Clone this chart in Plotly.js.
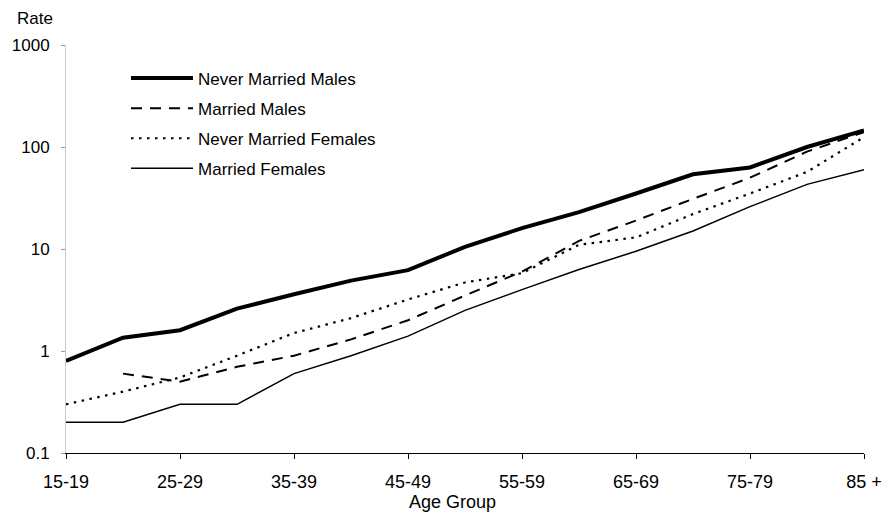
<!DOCTYPE html>
<html>
<head>
<meta charset="utf-8">
<script src="https://cdn.plot.ly/plotly-3.0.1.min.js"></script>
<style>html,body{margin:0;padding:0;background:#fff;}#chart{width:891px;height:514px;}</style>
</head>
<body>
<div id="chart"></div>
<script>
var categories = ["15-19","20-24","25-29","30-34","35-39","40-44","45-49","50-54","55-59","60-64","65-69","70-74","75-79","80-84","85 +"];
var tickLabels = ["15-19","25-29","35-39","45-49","55-59","65-69","75-79","85 +"];
var neverMarriedMales   = [0.8, 1.35, 1.6, 2.6, 3.6, 4.9, 6.2, 10.5, 16, 23, 35, 54, 63, 100, 145];
var marriedMales        = [null, 0.6, 0.5, 0.7, 0.9, 1.3, 2.0, 3.5, 6.0, 12, 19, 31, 50, 90, 140];
var neverMarriedFemales = [0.3, 0.4, 0.55, 0.9, 1.5, 2.1, 3.2, 4.7, 5.8, 11, 13, 22, 35, 57, 125];
var marriedFemales      = [0.2, 0.2, 0.3, 0.3, 0.6, 0.9, 1.4, 2.5, 4.0, 6.3, 9.5, 15, 26, 43, 60];
var yTicks = [0.1, 1, 10, 100, 1000];
var yTickText = ["0.1", "1", "10", "100", "1000"];

var F = "Liberation Sans, Arial, sans-serif";
function tr(name, y, width, dash) {
  return {type: "scatter", mode: "lines", name: name, legendgroup: name, x: categories, y: y,
    connectgaps: false, line: {color: "#000", width: width, dash: dash}};
}
var data = [
  tr("Never Married Males", neverMarriedMales, 4, "solid"),
  tr("Married Males", marriedMales, 2, "11px,8px"),
  tr("Never Married Females", neverMarriedFemales, 2.2, "2.5px,5.5px"),
  tr("Married Females", marriedFemales, 1.5, "solid")
];
var layout = {
  width: 891, height: 514,
  margin: {l: 66, r: 27, t: 45, b: 61},
  paper_bgcolor: "#fff", plot_bgcolor: "#fff",
  font: {family: F, size: 18, color: "#000"},
  showlegend: true,
  legend: {x: 0.0752, y: 0.962, xanchor: "left", yanchor: "top", bgcolor: "rgba(0,0,0,0)",
    font: {family: F, size: 17, color: "#000"}, itemwidth: 62, tracegroupgap: 5},
  xaxis: {type: "category", range: [0, 14], tickmode: "array", tickvals: tickLabels, ticktext: tickLabels,
    showgrid: false, zeroline: false, showline: true, linecolor: "#000", linewidth: 1,
    ticks: "outside", ticklen: 5, tickcolor: "#000", ticklabelstandoff: 7,
    tickfont: {family: F, size: 18, color: "#000"}},
  yaxis: {type: "log", range: [-1, 3], tickmode: "array", tickvals: yTicks, ticktext: yTickText,
    showgrid: false, zeroline: false, showline: true, linecolor: "#ccc", linewidth: 1,
    ticks: "outside", ticklen: 4, tickcolor: "#999", ticklabelstandoff: 8,
    tickfont: {family: F, size: 17, color: "#000"}},
  annotations: [
    {text: "Rate", xref: "paper", yref: "paper", x: -51/798, y: 1 + 27/408, xanchor: "left", yanchor: "middle",
      showarrow: false, font: {family: F, size: 17, color: "#000"}},
    {text: "Age Group", xref: "paper", yref: "paper", x: 386/798, y: -49/408, xanchor: "center", yanchor: "middle",
      showarrow: false, font: {family: F, size: 18, color: "#000"}}
  ]
};
Plotly.newPlot("chart", data, layout, {staticPlot: true, displayModeBar: false});
</script>
</body>
</html>
